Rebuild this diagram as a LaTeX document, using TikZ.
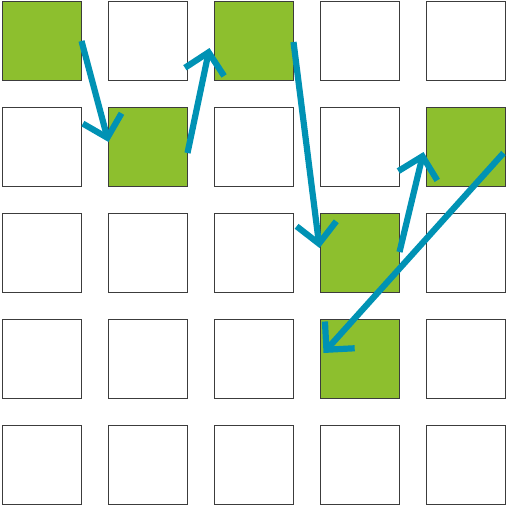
\documentclass[tikz,border=0pt]{standalone}
\usetikzlibrary{arrows.meta,calc}
\definecolor{leaf}{RGB}{141,191,46}
\definecolor{teal}{RGB}{0,146,180}
\definecolor{edge}{RGB}{60,60,60}
\tikzset{
  cell/.style={draw=edge,line width=1.2pt,fill=white,minimum width=79pt,minimum height=79pt,inner sep=0pt,outer sep=0pt},
  hot/.style={cell,fill=leaf},
  jump/.style={draw=teal,line width=6.2pt,-{Straight Barb[length=20pt,width=40pt,line cap=butt,line join=miter]}}
}
\begin{document}
\begin{tikzpicture}[x=1pt,y=-1pt]
\useasboundingbox (0,0) rectangle (507,507);
\foreach \i in {0,...,4}{
  \foreach \j in {0,...,4}{
    \node[cell] (s\i\j) at (42+106*\i,41+106*\j) {};
  }
}
\foreach \i/\j in {0/0,1/1,2/0,3/2,4/1,3/3}{
  \node[hot] (h\i\j) at (42+106*\i,41+106*\j) {};
}
\draw[jump] (h00.east) -- ($(h11.west)+(0,-5)$);
\draw[jump] ($(h11.east)+(0,6)$) -- ($(h20.west)+(-5,7)$);
\draw[jump] ($(h20.east)+(0,1)$) -- ($(h32.west)+(-1,-5)$);
\draw[jump] ($(h32.east)+(0,-1)$) -- ($(h41.west)+(-3,5)$);
\draw[jump] ($(h41.east)+(-2,6)$) -- ($(h33.west)+(3,-6)$);
\end{tikzpicture}
\end{document}
